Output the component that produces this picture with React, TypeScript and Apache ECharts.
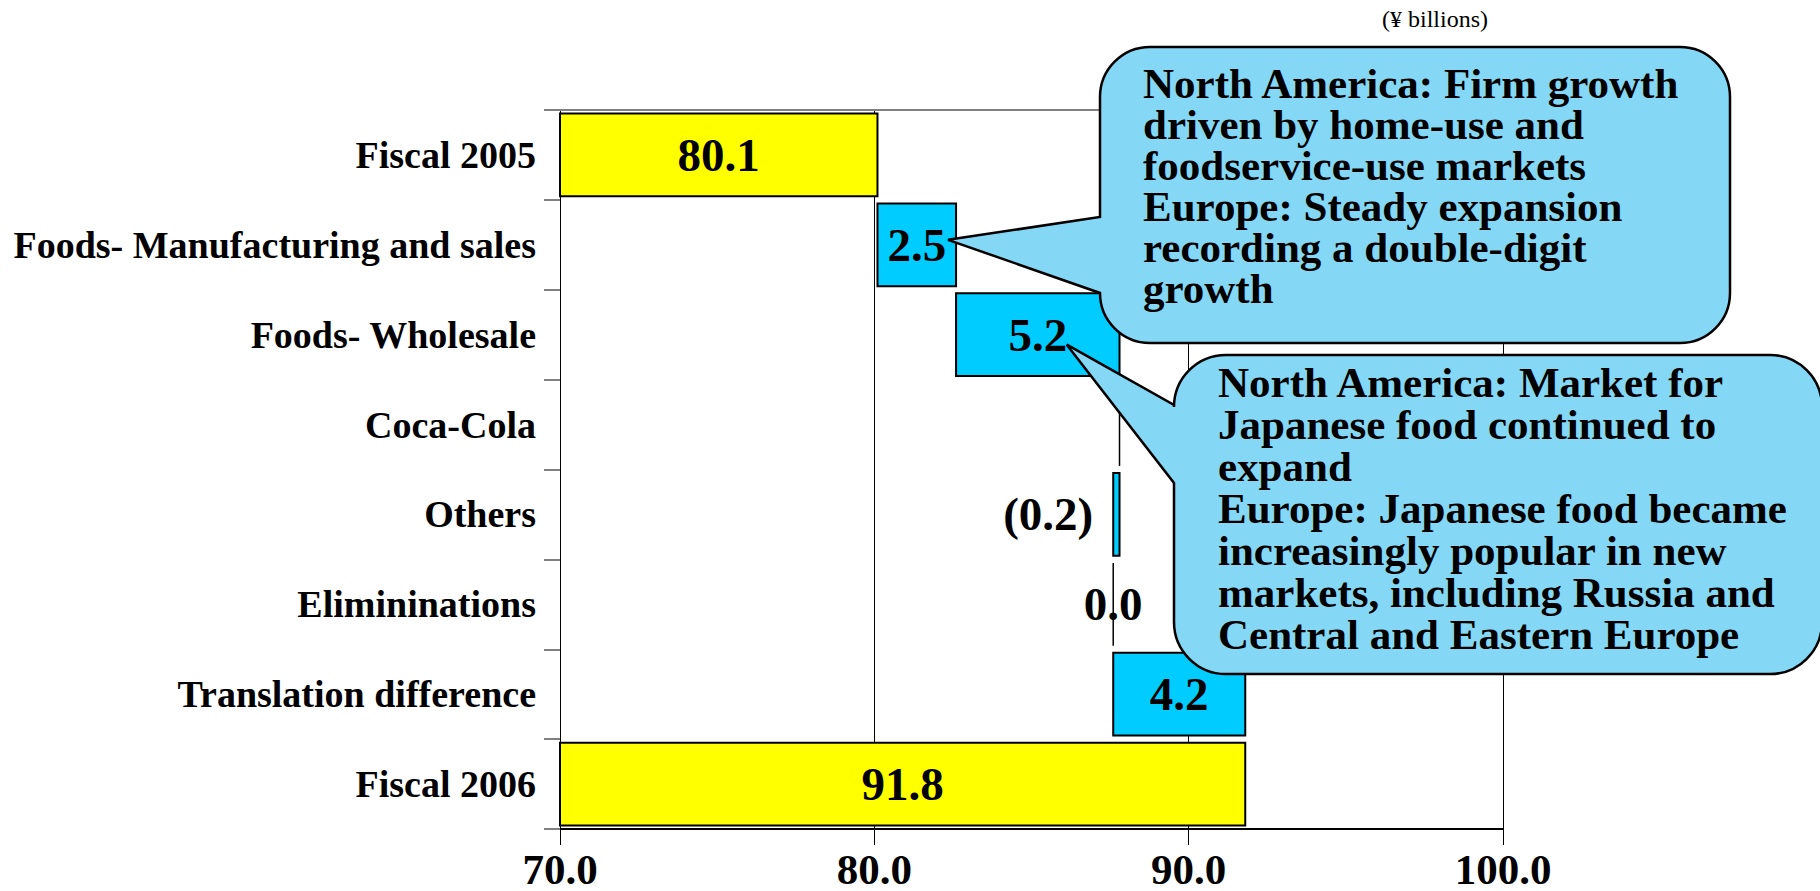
import React, { useEffect, useRef } from 'react';
import * as echarts from 'echarts';

// ---- data ----
const categories = [
  'Fiscal 2005',
  'Foods- Manufacturing and sales',
  'Foods- Wholesale',
  'Coca-Cola',
  'Others',
  'Elimininations',
  'Translation difference',
  'Fiscal 2006',
];
const changes = [80.1, 2.5, 5.2, 0.0, -0.2, 0.0, 4.2, 91.8];
const isTotal = [true, false, false, false, false, false, false, true];
const showLabel = [true, true, true, false, true, true, true, true];
const xMin = 70;
const xMax = 100;
const xStep = 10;
const unitNote = '(¥ billions)';
const note1Lines = [
  'North America: Firm growth',
  'driven by home-use and',
  'foodservice-use markets',
  'Europe: Steady expansion',
  'recording a double-digit',
  'growth',
];
const note2Lines = [
  'North America: Market for',
  'Japanese food continued to',
  'expand',
  'Europe: Japanese food became',
  'increasingly popular in new',
  'markets, including Russia and',
  'Central and Eastern Europe',
];

const YELLOW = '#FFFF00';
const BLUE = '#00CCFF';
const BUBBLE = '#84D8F5';
const SERIF = '"Liberation Serif", "Times New Roman", serif';

// running waterfall positions
const starts: number[] = [];
const ends: number[] = [];
{
  let run = 0;
  changes.forEach((v, i) => {
    if (isTotal[i]) {
      starts.push(xMin);
      ends.push(v);
      run = v;
    } else {
      starts.push(run);
      run = Math.round((run + v) * 10) / 10;
      ends.push(run);
    }
  });
}

const fmt = (v: number) => (v < 0 ? `(${Math.abs(v).toFixed(1)})` : v.toFixed(1));

function bubblePath(
  x0: number, y0: number, x1: number, y1: number, r: number,
  yA: number, yB: number, tx: number, ty: number
) {
  const k = r * 0.5523;
  return [
    `M${x0 + r} ${y0}`,
    `L${x1 - r} ${y0}`,
    `C${x1 - r + k} ${y0} ${x1} ${y0 + r - k} ${x1} ${y0 + r}`,
    `L${x1} ${y1 - r}`,
    `C${x1} ${y1 - r + k} ${x1 - r + k} ${y1} ${x1 - r} ${y1}`,
    `L${x0 + r} ${y1}`,
    `C${x0 + r - k} ${y1} ${x0} ${y1 - r + k} ${x0} ${y1 - r}`,
    `L${x0} ${yB}`,
    `L${tx} ${ty}`,
    `L${x0} ${yA}`,
    `L${x0} ${y0 + r}`,
    `C${x0} ${y0 + r - k} ${x0 + r - k} ${y0} ${x0 + r} ${y0}`,
    'Z',
  ].join(' ');
}

export default function App() {
  const ref = useRef<HTMLDivElement>(null);

  useEffect(() => {
    if (!ref.current) return;
    const chart = echarts.init(ref.current, undefined, { renderer: 'svg' });

    const option: any = {
      animation: false,
      backgroundColor: '#ffffff',
      textStyle: { fontFamily: SERIF },
      grid: { left: 560, right: 317, top: 110, bottom: 62, containLabel: false },
      xAxis: [
        {
          type: 'value',
          min: xMin,
          max: xMax,
          interval: xStep,
          position: 'bottom',
          axisLine: { show: true, lineStyle: { color: '#000', width: 2 } },
          axisTick: { show: true, length: 16, lineStyle: { color: '#000', width: 1 } },
          splitLine: { show: true, lineStyle: { color: '#000', width: 1 } },
          axisLabel: {
            margin: 19,
            lineHeight: 42,
            color: '#000',
            fontFamily: SERIF,
            fontWeight: 'bold',
            fontSize: 43,
            formatter: (v: number) => v.toFixed(1),
          },
        },
        {
          type: 'value',
          min: xMin,
          max: xMax,
          interval: xStep,
          position: 'top',
          axisLine: { show: true, onZero: false, lineStyle: { color: '#808080', width: 2 } },
          axisTick: { show: false },
          splitLine: { show: false },
          axisLabel: { show: false },
        },
      ],
      yAxis: {
        type: 'category',
        data: categories,
        inverse: true,
        axisLine: { show: true, lineStyle: { color: '#000', width: 1 } },
        axisTick: { show: true, length: 16, lineStyle: { color: '#808080', width: 2 } },
        axisLabel: {
          margin: 24,
          color: '#000',
          fontFamily: SERIF,
          fontWeight: 'bold',
          fontSize: 38,
        },
        splitLine: { show: false },
      },
      series: [
        {
          type: 'custom',
          xAxisIndex: 0,
          yAxisIndex: 0,
          data: categories.map((_, i) => [starts[i], ends[i], i]),
          encode: { x: [0, 1], y: 2 },
          renderItem: (params: any, api: any) => {
            const i = params.dataIndex;
            const s = api.value(0);
            const e = api.value(1);
            const c = api.value(2);
            const a = api.coord([s, c]);
            const b = api.coord([e, c]);
            const bandH = api.size([0, 1])[1];
            const h = bandH * 0.92;
            const x = Math.min(a[0], b[0]);
            const w = Math.abs(b[0] - a[0]);
            const y = a[1] - h / 2;
            const children: any[] = [];
            if (w < 1) {
              children.push({
                type: 'line',
                shape: { x1: x, y1: y, x2: x, y2: y + h },
                style: { stroke: '#000', lineWidth: 1.5 },
              });
            } else {
              children.push({
                type: 'rect',
                shape: { x, y, width: w, height: h },
                style: { fill: isTotal[i] ? YELLOW : BLUE, stroke: '#000', lineWidth: 2 },
              });
            }
            if (showLabel[i]) {
              const v = changes[i];
              const neg = v < 0;
              children.push({
                type: 'text',
                x: neg ? x - 20 : x + w / 2,
                y: a[1],
                style: {
                  text: fmt(v),
                  font: `bold 47px ${SERIF}`,
                  fill: '#000',
                  align: neg ? 'right' : 'center',
                  verticalAlign: 'middle',
                },
              });
            }
            return { type: 'group', children };
          },
        },
      ],
    };
    chart.setOption(option);

    // callout tips, derived from the bars they point to
    const p1 = chart.convertToPixel({ xAxisIndex: 0, yAxisIndex: 0 }, [ends[1], 1]) as number[];
    const p2 = chart.convertToPixel(
      { xAxisIndex: 0, yAxisIndex: 0 },
      [(starts[2] + ends[2]) / 2, 2]
    ) as number[];
    const tip1 = [p1[0] - 8, p1[1] - 5];
    const tip2 = [p2[0] + 29, p2[1] + 10];

    const d1 = bubblePath(1100, 47, 1730, 343, 50, 217, 293, tip1[0], tip1[1]);
    const d2 = bubblePath(1174, 355, 1822, 674, 52, 405, 483, tip2[0], tip2[1]);
    echarts.graphic.registerShape('bubbleOne', echarts.graphic.extendPath(d1, {}) as any);
    echarts.graphic.registerShape('bubbleTwo', echarts.graphic.extendPath(d2, {}) as any);

    chart.setOption({
      graphic: [
        {
          type: 'text',
          x: 1435,
          y: 19,
          z: 20,
          style: {
            text: unitNote,
            font: `24px ${SERIF}`,
            fill: '#000',
            align: 'center',
            verticalAlign: 'middle',
          },
        },
        {
          type: 'bubbleOne',
          x: 0,
          y: 0,
          z: 20,
          style: { fill: BUBBLE, stroke: '#000', lineWidth: 2.5 },
        },
        {
          type: 'text',
          x: 1143,
          y: 63,
          z: 21,
          style: {
            text: note1Lines.join('\n'),
            font: `bold 43px ${SERIF}`,
            lineHeight: 41,
            fill: '#000',
            align: 'left',
            verticalAlign: 'top',
          },
        },
        {
          type: 'bubbleTwo',
          x: 0,
          y: 0,
          z: 20,
          style: { fill: BUBBLE, stroke: '#000', lineWidth: 2.5 },
        },
        {
          type: 'text',
          x: 1218,
          y: 361,
          z: 21,
          style: {
            text: note2Lines.join('\n'),
            font: `bold 43px ${SERIF}`,
            lineHeight: 42,
            fill: '#000',
            align: 'left',
            verticalAlign: 'top',
          },
        },
      ],
    });

    return () => {
      chart.dispose();
    };
  }, []);

  return (
    <div
      ref={ref}
      style={{ position: 'absolute', left: 0, top: 0, width: 1820, height: 891 }}
    />
  );
}
